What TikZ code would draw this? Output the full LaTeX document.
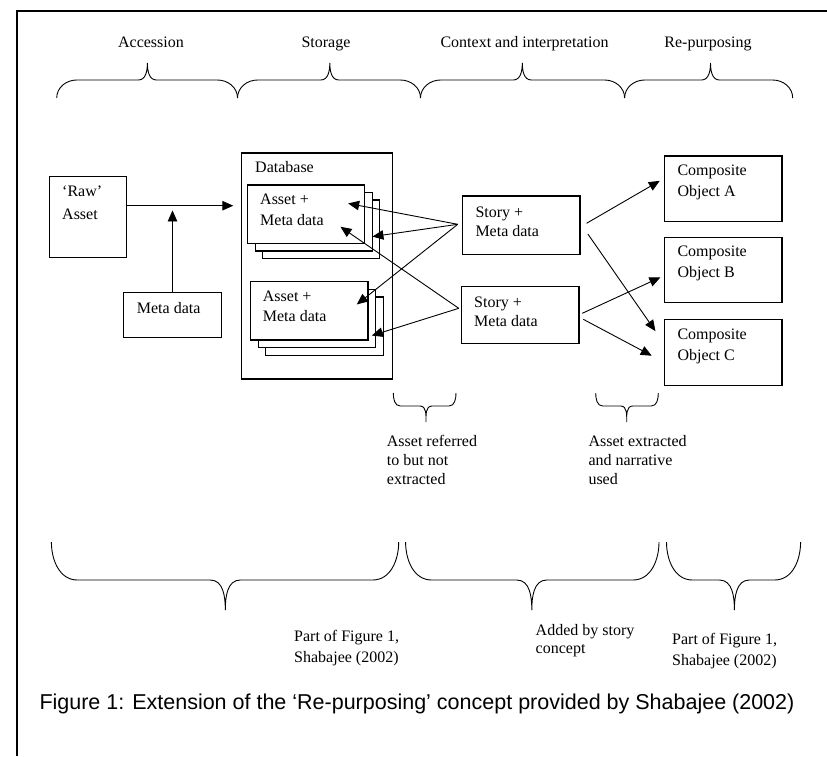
\documentclass[tikz,border=0pt]{standalone}
\usepackage{fontspec}
\setmainfont{Liberation Serif}
\newfontfamily\captionsans{Liberation Sans}
\usetikzlibrary{arrows.meta,calc}
% fixed-height strut so a text block's top edge sits a known distance above its first baseline
\newcommand\lnstrut{\rule{0pt}{12pt}}
% curly brace whose tip points up: x0, x1, xtip, yend, ymid, ytip, end radius, tip radius
\newcommand\bracetipup[8]{%
  \draw[brace] (#1,#4) to[out=90,in=180] (#1+#7,#5) -- (#3-#8,#5)
    to[out=0,in=-90] (#3,#6) to[out=-90,in=180] (#3+#8,#5) -- (#2-#7,#5)
    to[out=0,in=90] (#2,#4);}
% curly brace whose tip points down
\newcommand\bracetipdown[8]{%
  \draw[brace] (#1,#4) to[out=-90,in=180] (#1+#7,#5) -- (#3-#8,#5)
    to[out=0,in=90] (#3,#6) to[out=90,in=180] (#3+#8,#5) -- (#2-#7,#5)
    to[out=0,in=-90] (#2,#4);}
\begin{document}
\begin{tikzpicture}[x=1pt,y=-1pt,
  box/.style={draw,line width=1.1pt,fill=white,inner sep=0pt},
  asset/.style={box,minimum width=117.5pt,minimum height=58.3pt},
  story/.style={box,minimum width=117.3pt},
  comp/.style={box,minimum width=117.7pt},
  txt/.style={inner sep=0pt,anchor=north west,align=left,font=\fontsize{16}{20.5}\selectfont},
  head/.style={inner sep=0pt,anchor=base,font=\fontsize{16}{20}\selectfont},
  arr/.style={line width=0.9pt,-{Triangle[length=11pt,width=9.5pt]}},
  brace/.style={line width=0.9pt},
]
\useasboundingbox (0,0) rectangle (827,756);
\fill[white] (0,0) rectangle (827,756);
% frame
\draw[line width=1.6pt] (17,756) -- (17,11) -- (827,11);

% stage headings and braces
\node[head] (h1) at (151,47) {Accession};
\node[head] (h2) at (326,47) {Storage};
\node[head] (h3) at (524.5,47) {Context and interpretation};
\node[head] (h4) at (708,47) {Re-purposing};
\bracetipup{56.7}{237.5}{147.4}{98}{80}{63}{20}{9}
\bracetipup{237.5}{420.5}{329.8}{98}{80}{63}{20}{9}
\bracetipup{420.5}{624.6}{522.3}{98}{80}{63}{20}{9}
\bracetipup{624.6}{792.7}{710.5}{98}{80}{63}{20}{9}

% accession
\node[box,minimum width=77.4pt,minimum height=80.6pt] (raw) at (88,217) {};
\node[txt,font=\fontsize{16}{22.3}\selectfont] (rawT) at (62,184.7) {\lnstrut‘Raw’\\Asset};
\node[box,minimum width=98.4pt,minimum height=45.4pt] (meta) at (172.5,315) {};
\node[txt] (metaT) at (136.7,301.3) {\lnstrut Meta data};

% database with two stacks of assets
\node[box,minimum width=151pt,minimum height=226pt] (db) at (317.2,266) {};
\node[txt] (dbT) at (255,160) {\lnstrut Database};
\node[asset] (a1c) at (321.15,229.15) {};
\node[asset] (a1b) at (313.85,221.85) {};
\node[asset] (a1) at (306.15,214.15) {};
\node[txt,font=\fontsize{16}{21}\selectfont] (a1T) at (260,192) {\lnstrut Asset +\\Meta data};
\node[asset] (a2c) at (324.5,326.15) {};
\node[asset] (a2b) at (316.8,318.45) {};
\node[asset] (a2) at (309.2,310.85) {};
\node[txt,font=\fontsize{16}{20}\selectfont] (a2T) at (262.7,289.7) {\lnstrut Asset +\\Meta data};

% stories
\node[story,minimum height=58.3pt] (s1) at (521.35,225.15) {};
\node[txt,font=\fontsize{16}{19}\selectfont] (s1T) at (475.3,205.3) {\lnstrut Story +\\Meta data};
\node[story,minimum height=57pt] (s2) at (520.35,315.2) {};
\node[txt,font=\fontsize{16}{19.4}\selectfont] (s2T) at (474,295.3) {\lnstrut Story +\\Meta data};

% composite objects
\node[comp,minimum height=65.7pt] (cA) at (723.15,188.85) {};
\node[txt] (cAT) at (677.3,163.5) {\lnstrut Composite\\Object A};
\node[comp,minimum height=65.4pt] (cB) at (723.15,270) {};
\node[txt] (cBT) at (677.3,244.7) {\lnstrut Composite\\Object B};
\node[comp,minimum height=66pt] (cC) at (723.15,352.3) {};
\node[txt] (cCT) at (677.3,327.3) {\lnstrut Composite\\Object C};

% accession arrows
\coordinate (dbin) at (233.3,205.7);
\draw[arr] (raw.east |- dbin) -- (dbin);
\draw[arr] (meta.north) -- ($(meta.north)+(0,-81.3)$);

% stories refer to assets
\coordinate (s1src) at ($(s1.west)+(-4.4,-0.85)$);
\coordinate (s2src) at ($(s2.west)+(-2.4,-6.9)$);
\draw[arr] (s1src) -- ($(a1.north east)+(-17.3,19)$);
\draw[arr] (s1src) -- ($(a1b.south east)+(-0.7,-15)$);
\draw[arr] (s1src) -- ($(a2.north east)+(-11.7,23.3)$);
\draw[arr] (s2src) -- ($(a1.north east)+(-25,42.3)$);
\draw[arr] (s2src) -- ($(a2b.south east)+(-4.3,-12.6)$);

% stories feed composite objects
\draw[arr] ($(s1.east)+(6,-1.85)$) -- ($(cA.west)+(-4,-8)$);
\draw[arr] ($(s1.east)+(7.3,8.85)$) -- ($(cC.north west)+(-8.3,12.4)$);
\draw[arr] ($(s2.east)+(2.7,-1.9)$) -- ($(cB.west)+(-3.3,7.3)$);
\draw[arr] ($(s2.east)+(3.7,4.1)$) -- ($(cC.west)+(-12,3.4)$);

% small braces and their notes
\bracetipdown{393.3}{456}{426}{393}{406}{422}{7}{6}
\bracetipdown{595.7}{658.3}{626.7}{393}{406}{422}{7}{6}
\node[txt,font=\fontsize{16}{19}\selectfont] (n1) at (386.7,434.7) {\lnstrut Asset referred\\to but not\\extracted};
\node[txt,font=\fontsize{16}{19}\selectfont] (n2) at (588.3,434.7) {\lnstrut Asset extracted\\and narrative\\used};

% bottom braces and their notes
\bracetipdown{51.4}{398.7}{225.3}{542}{580}{610}{26}{15}
\bracetipdown{405.6}{659}{531.8}{542}{580}{610}{26}{15}
\bracetipdown{666.5}{800.6}{734.4}{542}{580}{610}{26}{15}
\node[txt,font=\fontsize{16}{21}\selectfont] (b1) at (294,629) {\lnstrut Part of Figure 1,\\Shabajee (2002)};
\node[txt,font=\fontsize{16}{18}\selectfont] (b2) at (535.5,623) {\lnstrut Added by story\\concept};
\node[txt,font=\fontsize{16}{21}\selectfont] (b3) at (672,632) {\lnstrut Part of Figure 1,\\Shabajee (2002)};

% caption
\node[anchor=base west,inner sep=0pt,font=\captionsans\fontsize{21.5}{24}\selectfont] (cap) at (39.3,709)
  {Figure 1: Extension of the ‘Re-purposing’ concept provided by Shabajee (2002)};
\end{tikzpicture}
\end{document}
